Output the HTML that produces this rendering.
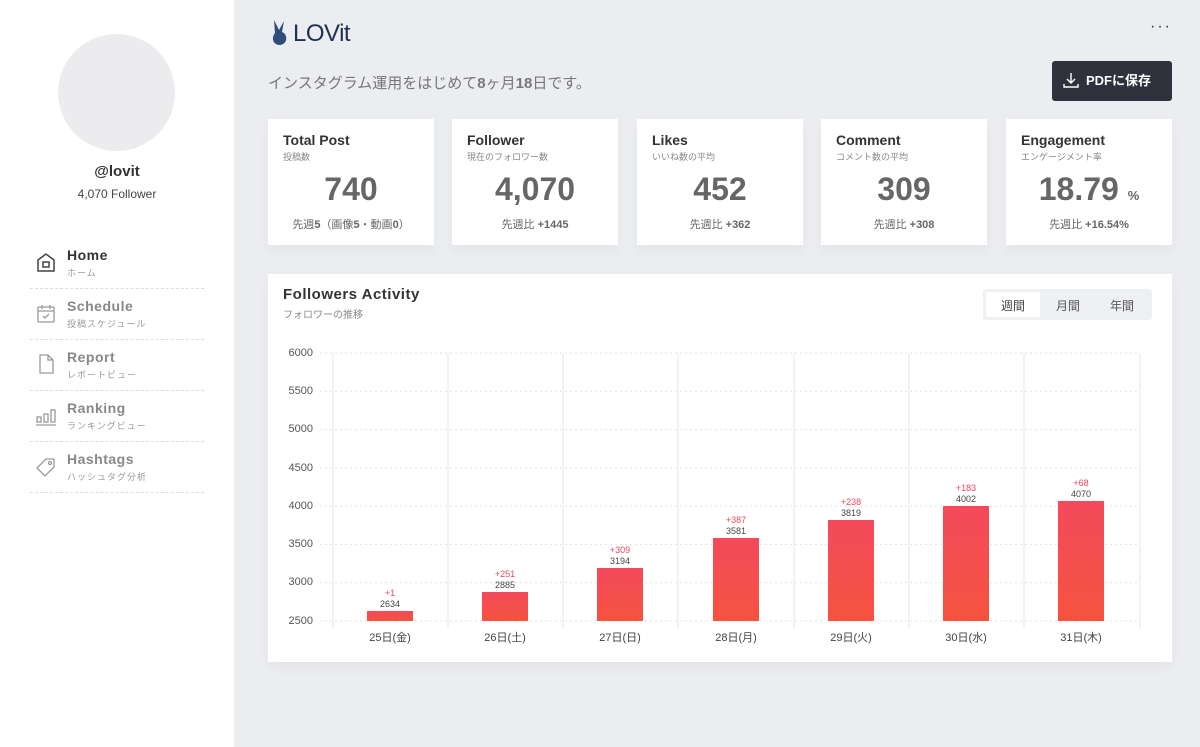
<!DOCTYPE html>
<html><head><meta charset="utf-8"><style>
*{margin:0;padding:0;box-sizing:border-box}
body{width:1200px;height:747px;overflow:hidden;background:#ecedf1;font-family:"Liberation Sans","Noto Sans CJK JP",sans-serif;position:relative;color:#333}
.a{position:absolute}
#side{left:0;top:0;width:234px;height:747px;background:#fff}
.nav{left:30px;width:174px;height:51px;border-bottom:1px dashed #ddd}
.nav .t{position:absolute;left:37px;top:9px;font-size:14px;font-weight:bold;color:#888;letter-spacing:.5px}
.nav .s{position:absolute;left:37px;top:28px;font-size:9px;color:#999;letter-spacing:1px}
.nav svg{position:absolute;left:5px;top:13px}
.card{background:#fff;top:119px;height:126px;width:166px;box-shadow:0 6px 12px rgba(0,0,0,.04)}
.card .h{position:absolute;left:15px;top:13px;font-size:14px;font-weight:bold;color:#333}
.card .sub{position:absolute;left:15px;top:31px;font-size:9px;color:#888}
.card .v{position:absolute;left:0;right:0;top:52px;text-align:center;font-size:32px;font-weight:bold;color:#666}
.card .f{position:absolute;left:0;right:0;top:97px;text-align:center;font-size:11px;color:#666}
.yl{font-size:11px;color:#555;width:40px;text-align:right;left:273px}
.xl{font-size:11px;color:#444;width:100px;text-align:center;top:629px}
.bar{width:46px;background:linear-gradient(#f44a5c,#f5533f)}
.d{font-size:9px;color:#f2465f;width:60px;text-align:center}
.n{font-size:9px;color:#444;width:60px;text-align:center}
</style></head><body>
<div id="side" class="a">
<div class="a" style="left:58px;top:34px;width:117px;height:117px;border-radius:50%;background:#ececef"></div>
<div class="a" style="left:0;width:234px;top:163px;text-align:center;font-size:15px;font-weight:bold;color:#333">@lovit</div>
<div class="a" style="left:0;width:234px;top:187px;text-align:center;font-size:12px;color:#444">4,070 Follower</div>
<div class="a nav" style="top:238px"><svg width="22" height="22" viewBox="0 0 22 22" fill="none" stroke="#444" stroke-width="1.5"><path d="M3 9L11 3L19 9V20H3Z"/><rect x="8" y="11" width="6" height="5"/></svg><div class="t" style="color:#333">Home</div><div class="s">ホーム</div></div>
<div class="a nav" style="top:289px"><svg width="22" height="22" viewBox="0 0 22 22" fill="none" stroke="#999" stroke-width="1.3"><rect x="3" y="5" width="16" height="15" rx="1"/><path d="M3 9H19M7 3V7M15 3V7M8 14L10 16L14 12"/></svg><div class="t">Schedule</div><div class="s">投稿スケジュール</div></div>
<div class="a nav" style="top:340px"><svg width="22" height="22" viewBox="0 0 22 22" fill="none" stroke="#999" stroke-width="1.3"><path d="M5 2H13L18 7V20H5Z M13 2V7H18"/></svg><div class="t">Report</div><div class="s">レポートビュー</div></div>
<div class="a nav" style="top:391px"><svg width="22" height="22" viewBox="0 0 22 22" fill="none" stroke="#999" stroke-width="1.3"><rect x="2" y="13" width="4" height="5"/><rect x="9" y="10" width="4" height="8"/><rect x="16" y="6" width="4" height="12"/><path d="M1 21H21"/></svg><div class="t">Ranking</div><div class="s">ランキングビュー</div></div>
<div class="a nav" style="top:442px"><svg width="22" height="22" viewBox="0 0 22 22" fill="none" stroke="#999" stroke-width="1.3"><path d="M2 13L11 4H19V12L10 21Z"/><circle cx="15" cy="8" r="1.5"/></svg><div class="t">Hashtags</div><div class="s">ハッシュタグ分析</div></div>
</div>
<svg class="a" style="left:270px;top:18px" width="22" height="28" viewBox="0 0 22 28"><path d="M4 2L9 12L14 3L12 14C18 16 18 26 10 27C3 27 1 20 5 15Z" fill="#2d4d7a"/></svg>
<div class="a" style="left:293px;top:20px;font-size:24px;color:#1f2f55;letter-spacing:-.5px">LOVit</div>
<div class="a" style="left:1150px;top:18px;font-size:16px;color:#333;letter-spacing:2px">···</div>
<div class="a" style="left:268px;top:72px;font-size:15px;color:#777">インスタグラム運用をはじめて<b>8</b>ヶ月<b>18</b>日です。</div>
<div class="a" style="left:1052px;top:61px;width:120px;height:40px;background:#2f313d;border-radius:3px;color:#fff;font-size:13px;font-weight:bold;line-height:40px;padding-left:34px">PDFに保存</div>
<svg class="a" style="left:1063px;top:71px" width="16" height="18" viewBox="0 0 16 18" fill="none" stroke="#fff" stroke-width="1.4"><path d="M8 2V12M4 8L8 12L12 8M1 13V16H15V13"/></svg>
<div class="a card" style="left:268px"><div class="h">Total Post</div><div class="sub">投稿数</div><div class="v">740</div><div class="f">先週<b>5</b>（画像<b>5</b>・動画<b>0</b>）</div></div>
<div class="a card" style="left:452px"><div class="h">Follower</div><div class="sub">現在のフォロワー数</div><div class="v">4,070</div><div class="f">先週比 <b>+1445</b></div></div>
<div class="a card" style="left:637px"><div class="h">Likes</div><div class="sub">いいね数の平均</div><div class="v">452</div><div class="f">先週比 <b>+362</b></div></div>
<div class="a card" style="left:821px"><div class="h">Comment</div><div class="sub">コメント数の平均</div><div class="v">309</div><div class="f">先週比 <b>+308</b></div></div>
<div class="a card" style="left:1006px"><div class="h">Engagement</div><div class="sub">エンゲージメント率</div><div class="v">18.79 <span style="font-size:13px">%</span></div><div class="f">先週比 <b>+16.54%</b></div></div>
<div class="a" style="left:268px;top:274px;width:904px;height:388px;background:#fff;box-shadow:0 6px 12px rgba(0,0,0,.04)"></div>
<div class="a" style="left:283px;top:286px;font-size:15px;font-weight:bold;color:#333;letter-spacing:.5px">Followers Activity</div>
<div class="a" style="left:283px;top:306px;font-size:10px;color:#888">フォロワーの推移</div>
<div class="a" style="left:983px;top:289px;width:169px;height:31px;background:#eef0f3;border-radius:3px"></div>
<div class="a" style="left:986px;top:292px;width:54px;height:25px;background:#fff;border-radius:2px"></div>
<div class="a" style="left:986px;top:297px;width:54px;text-align:center;font-size:12px;color:#444">週間</div>
<div class="a" style="left:1041px;top:297px;width:54px;text-align:center;font-size:12px;color:#555">月間</div>
<div class="a" style="left:1095px;top:297px;width:54px;text-align:center;font-size:12px;color:#555">年間</div>
<svg class="a" style="left:0;top:0" width="1200" height="747">
<g stroke="#e2e2e2" stroke-dasharray="2,3">
<line x1="320" x2="1140" y1="353" y2="353"/><line x1="320" x2="1140" y1="391.3" y2="391.3"/><line x1="320" x2="1140" y1="429.6" y2="429.6"/><line x1="320" x2="1140" y1="467.9" y2="467.9"/><line x1="320" x2="1140" y1="506.1" y2="506.1"/><line x1="320" x2="1140" y1="544.4" y2="544.4"/><line x1="320" x2="1140" y1="582.7" y2="582.7"/><line x1="320" x2="1140" y1="621" y2="621"/>
</g>
<g stroke="#e6e6e6">
<line x1="333" x2="333" y1="353" y2="629"/><line x1="448" x2="448" y1="353" y2="629"/><line x1="563" x2="563" y1="353" y2="629"/><line x1="678" x2="678" y1="353" y2="629"/><line x1="794" x2="794" y1="353" y2="629"/><line x1="909" x2="909" y1="353" y2="629"/><line x1="1024" x2="1024" y1="353" y2="629"/><line x1="1140" x2="1140" y1="353" y2="629"/>
</g>
</svg>
<div class="a yl" style="top:347px">6000</div><div class="a yl" style="top:385px">5500</div><div class="a yl" style="top:423px">5000</div><div class="a yl" style="top:462px">4500</div><div class="a yl" style="top:500px">4000</div><div class="a yl" style="top:538px">3500</div><div class="a yl" style="top:576px">3000</div><div class="a yl" style="top:615px">2500</div>
<div class="a bar" style="left:367px;top:611px;height:10px"></div>
<div class="a bar" style="left:482px;top:592px;height:29px"></div>
<div class="a bar" style="left:597px;top:568px;height:53px"></div>
<div class="a bar" style="left:713px;top:538px;height:83px"></div>
<div class="a bar" style="left:828px;top:520px;height:101px"></div>
<div class="a bar" style="left:943px;top:506px;height:115px"></div>
<div class="a bar" style="left:1058px;top:501px;height:120px"></div>
<div class="a d" style="left:360px;top:588px">+1</div><div class="a n" style="left:360px;top:599px">2634</div>
<div class="a d" style="left:475px;top:569px">+251</div><div class="a n" style="left:475px;top:580px">2885</div>
<div class="a d" style="left:590px;top:545px">+309</div><div class="a n" style="left:590px;top:556px">3194</div>
<div class="a d" style="left:706px;top:515px">+387</div><div class="a n" style="left:706px;top:526px">3581</div>
<div class="a d" style="left:821px;top:497px">+238</div><div class="a n" style="left:821px;top:508px">3819</div>
<div class="a d" style="left:936px;top:483px">+183</div><div class="a n" style="left:936px;top:494px">4002</div>
<div class="a d" style="left:1051px;top:478px">+68</div><div class="a n" style="left:1051px;top:489px">4070</div>
<div class="a xl" style="left:340px">25日(金)</div><div class="a xl" style="left:455px">26日(土)</div><div class="a xl" style="left:570px">27日(日)</div><div class="a xl" style="left:686px">28日(月)</div><div class="a xl" style="left:801px">29日(火)</div><div class="a xl" style="left:916px">30日(水)</div><div class="a xl" style="left:1031px">31日(木)</div>
</body></html>
